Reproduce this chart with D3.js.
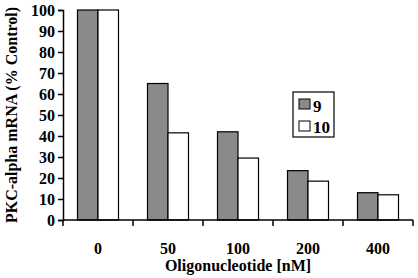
<!DOCTYPE html>
<html>
<head>
<meta charset="utf-8">
<script src="https://cdn.jsdelivr.net/npm/d3@7"></script>
<style>
  body { margin: 0; background: #fff; }
  svg text { font-family: "Liberation Serif", "Times New Roman", serif; font-weight: bold; fill: #000; }
</style>
</head>
<body>
<svg id="chart" width="418" height="278"></svg>
<script>
const doses = ["0", "50", "100", "200", "400"];
const series = ["9", "10"];
const values9 = [100, 65, 42, 23.5, 13];
const values10 = [100, 41.5, 29.5, 18.5, 12];
const yTicks = [0, 10, 20, 30, 40, 50, 60, 70, 80, 90, 100];

const colors = { "9": "#8a8a8a", "10": "#ffffff" };
const rows = doses.map((d, i) => ({ dose: d, "9": values9[i], "10": values10[i] }));

const margin = { top: 10, right: 5, bottom: 58, left: 63 };
const width = 418, height = 278;
const innerWidth = width - margin.left - margin.right;
const innerHeight = height - margin.top - margin.bottom;

const svg = d3.select("#chart");
const inner = svg.append("g")
  .attr("transform", `translate(${margin.left}, ${margin.top})`);

const x = d3.scaleBand().domain(doses).range([0, innerWidth]);
const xSub = d3.scaleBand().domain(series)
  .range([x.bandwidth() / 2 - 20.5, x.bandwidth() / 2 + 20.5]);
const y = d3.scaleLinear().domain([0, 100]).range([innerHeight, 0]);

inner.selectAll("g.group")
  .data(rows).join("g")
  .attr("class", "group")
  .attr("transform", d => `translate(${x(d.dose)}, 0)`)
  .selectAll("rect")
  .data(d => series.map(s => ({ key: s, value: d[s] })))
  .join("rect")
  .attr("x", d => xSub(d.key))
  .attr("width", xSub.bandwidth())
  .attr("y", d => y(d.value))
  .attr("height", d => innerHeight - y(d.value))
  .attr("fill", d => colors[d.key])
  .attr("stroke", "#000").attr("stroke-width", 1.2);

// y axis
const yAxis = inner.append("g")
  .call(d3.axisLeft(y).tickValues(yTicks).tickSize(5).tickPadding(3));
yAxis.selectAll("text").style("font-size", "16px");
yAxis.selectAll("line, path").attr("stroke", "#000").attr("stroke-width", 1.5);

// x axis: ticks at band boundaries, labels under band centres
const xAxis = inner.append("g")
  .attr("transform", `translate(0, ${innerHeight})`);
xAxis.append("line")
  .attr("x1", 0).attr("x2", innerWidth)
  .attr("stroke", "#000").attr("stroke-width", 1.5);
xAxis.selectAll("line.tick")
  .data(doses.map(d => x(d)).concat([innerWidth]))
  .join("line").attr("class", "tick")
  .attr("x1", d => d).attr("x2", d => d)
  .attr("y1", 0).attr("y2", 6)
  .attr("stroke", "#000").attr("stroke-width", 1.5);
xAxis.selectAll("text")
  .data(doses).join("text")
  .attr("x", d => x(d) + x.bandwidth() / 2)
  .attr("y", 34)
  .attr("text-anchor", "middle")
  .style("font-size", "16px")
  .text(d => d);

inner.append("text")
  .attr("x", innerWidth / 2)
  .attr("y", innerHeight + 51)
  .attr("text-anchor", "middle")
  .style("font-size", "16px")
  .text("Oligonucleotide [nM]");

svg.append("text")
  .attr("transform", `translate(17, ${margin.top + innerHeight / 2}) rotate(-90)`)
  .attr("text-anchor", "middle")
  .style("font-size", "16px")
  .text("PKC-alpha mRNA (% Control)");

// legend
const legend = svg.append("g").attr("transform", "translate(293, 92)");
legend.append("rect")
  .attr("width", 41).attr("height", 45)
  .attr("fill", "#fff").attr("stroke", "#000").attr("stroke-width", 1.2);
series.forEach((s, i) => {
  legend.append("rect")
    .attr("x", 6).attr("y", 7 + i * 22)
    .attr("width", 11).attr("height", 10)
    .attr("fill", colors[s]).attr("stroke", "#000").attr("stroke-width", 1);
  legend.append("text")
    .attr("x", 20).attr("y", 20 + i * 21)
    .style("font-size", "17px")
    .text(s);
});
</script>
</body>
</html>
